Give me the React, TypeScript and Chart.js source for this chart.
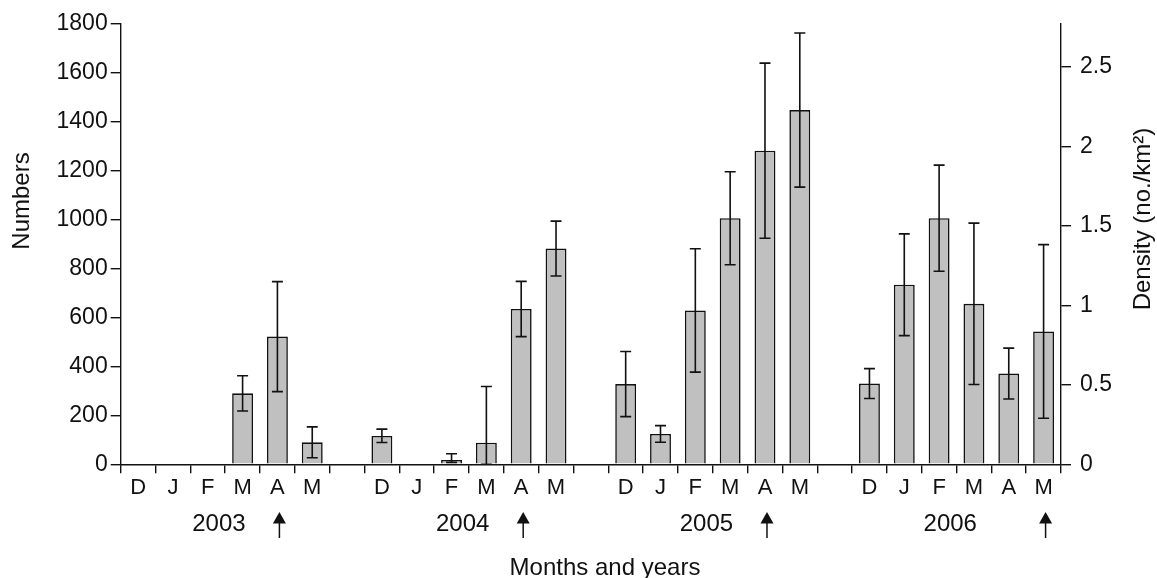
import React, { useEffect, useRef } from 'react';
import { Chart, registerables } from 'chart.js';

Chart.register(...registerables);

const FONT = '"Liberation Sans", Arial, Helvetica, sans-serif';

// 27 slots: four survey seasons of six months, separated by an empty slot
const monthLabels = [
  'D', 'J', 'F', 'M', 'A', 'M', '',
  'D', 'J', 'F', 'M', 'A', 'M', '',
  'D', 'J', 'F', 'M', 'A', 'M', '',
  'D', 'J', 'F', 'M', 'A', 'M',
];
const numbers = [
  null, null, null, 290, 522, 90, null,
  116, null, 18, 88, 635, 882, null,
  328, 124, 629, 1006, 1282, 1448, null,
  330, 734, 1006, 656, 371, 543,
];
const errorUp = [
  null, null, null, 72, 225, 63, null,
  28, null, 25, 230, 113, 112, null,
  133, 34, 252, 190, 358, 315, null,
  61, 208, 217, 330, 104, 355,
];
const errorDown = [
  null, null, null, 72, 225, 63, null,
  27, null, 10, 88, 113, 112, null,
  133, 34, 252, 190, 358, 315, null,
  61, 208, 217, 330, 104, 355,
];
const years = ['2003', '2004', '2005', '2006'];
const yearAnchorSlots = [2, 9, 16, 23];
const arrowSlots = [4, 11, 18, 26];
const numberTicks = [0, 200, 400, 600, 800, 1000, 1200, 1400, 1600, 1800];
const densityTicks = [0, 0.5, 1, 1.5, 2, 2.5];
const numbersMax = 1800;
const studyAreaKm2 = 650;

const errorBarPlugin = {
  id: 'errorBars',
  afterDatasetsDraw(chart: any) {
    const ctx = chart.ctx;
    const y = chart.scales.y;
    const meta = chart.getDatasetMeta(0);
    ctx.save();
    ctx.strokeStyle = '#111';
    ctx.lineWidth = 1.6;
    numbers.forEach((v, i) => {
      if (v == null || errorUp[i] == null) return;
      const px = meta.data[i].x;
      const top = y.getPixelForValue(v + (errorUp[i] as number));
      const bot = y.getPixelForValue(Math.max(0, v - (errorDown[i] as number)));
      const cap = 5.5;
      ctx.beginPath();
      ctx.moveTo(px, top);
      ctx.lineTo(px, bot);
      ctx.moveTo(px - cap, top);
      ctx.lineTo(px + cap, top);
      ctx.moveTo(px - cap, bot);
      ctx.lineTo(px + cap, bot);
      ctx.stroke();
    });
    ctx.restore();
  },
};

const annotationPlugin = {
  id: 'annotations',
  afterDraw(chart: any) {
    const ctx = chart.ctx;
    const x = chart.scales.x;
    const slot = x.getPixelForValue(1) - x.getPixelForValue(0);
    ctx.save();
    ctx.fillStyle = '#111';
    ctx.strokeStyle = '#111';
    // year labels
    ctx.font = `24px ${FONT}`;
    ctx.textAlign = 'center';
    ctx.textBaseline = 'middle';
    years.forEach((yr, i) => {
      const px = x.getPixelForValue(yearAnchorSlots[i]) + slot * 0.32;
      ctx.fillText(yr, px, 524);
    });
    // arrows
    arrowSlots.forEach((s) => {
      const px = x.getPixelForValue(s) + 2;
      ctx.beginPath();
      ctx.moveTo(px, 512);
      ctx.lineTo(px - 6.5, 523.5);
      ctx.lineTo(px + 6.5, 523.5);
      ctx.closePath();
      ctx.fill();
      ctx.lineWidth = 1.5;
      ctx.beginPath();
      ctx.moveTo(px, 522);
      ctx.lineTo(px, 538);
      ctx.stroke();
    });
    // axis titles
    ctx.font = `24px ${FONT}`;
    ctx.fillText('Months and years', 605, 568);
    ctx.save();
    ctx.translate(22, 201);
    ctx.rotate(-Math.PI / 2);
    ctx.fillText('Numbers', 0, 0);
    ctx.restore();
    ctx.save();
    ctx.translate(1143, 219);
    ctx.rotate(-Math.PI / 2);
    ctx.fillText('Density (no./km²)', 0, 0);
    ctx.restore();
    ctx.restore();
  },
};

export default function App() {
  const ref = useRef<HTMLCanvasElement | null>(null);

  useEffect(() => {
    if (!ref.current) return;
    const axisColor = '#111';
    const chart = new Chart(ref.current, {
      type: 'bar',
      data: {
        labels: monthLabels,
        datasets: [
          {
            data: numbers as any,
            backgroundColor: '#c0c0c0',
            borderColor: '#111',
            borderWidth: 1.6,
            barPercentage: 0.6,
            categoryPercentage: 1,
            yAxisID: 'y',
          },
        ],
      },
      options: {
        animation: false,
        responsive: true,
        maintainAspectRatio: false,
        layout: { padding: { top: 24, left: 0, right: 0, bottom: 0 } },
        plugins: { legend: { display: false }, tooltip: { enabled: false }, title: { display: false } },
        scales: {
          x: {
            type: 'category',
            offset: true,
            grid: {
              offset: true,
              drawOnChartArea: false,
              drawTicks: true,
              tickLength: 9,
              color: axisColor,
              lineWidth: 1.4,
            },
            border: { display: true, color: axisColor, width: 1.4 },
            ticks: {
              autoSkip: false,
              maxRotation: 0,
              minRotation: 0,
              color: '#111',
              font: { family: FONT, size: 22 },
              padding: 1,
            },
            afterFit(scale: any) {
              scale.height = 113.7;
            },
          },
          y: {
            type: 'linear',
            position: 'left',
            min: 0,
            max: numbersMax,
            grid: { drawOnChartArea: false, drawTicks: true, tickLength: 10, color: axisColor, lineWidth: 1.4 },
            border: { display: true, color: axisColor, width: 1.4 },
            afterBuildTicks(scale: any) {
              scale.ticks = numberTicks.map((v) => ({ value: v }));
            },
            ticks: {
              color: '#111',
              font: { family: FONT, size: 23 },
              padding: 3,
              callback: (v: any) => String(v),
            },
            afterFit(scale: any) {
              scale.width = 120.7;
            },
          },
          y2: {
            type: 'linear',
            position: 'right',
            min: 0,
            max: numbersMax / studyAreaKm2,
            grid: { drawOnChartArea: false, drawTicks: true, tickLength: 10, color: axisColor, lineWidth: 1.4 },
            border: { display: true, color: axisColor, width: 1.4 },
            afterBuildTicks(scale: any) {
              scale.ticks = densityTicks.map((v) => ({ value: v }));
            },
            ticks: {
              color: '#111',
              font: { family: FONT, size: 23 },
              padding: 9,
              callback: (v: any) => String(Number(v)),
            },
            afterFit(scale: any) {
              scale.width = 96;
            },
          },
        },
      } as any,
      plugins: [errorBarPlugin, annotationPlugin],
    });
    return () => chart.destroy();
  }, []);

  return (
    <div style={{ position: 'fixed', left: 0, top: 0, width: '1157px', height: '578px', background: '#fff' }}>
      <canvas ref={ref} />
    </div>
  );
}
